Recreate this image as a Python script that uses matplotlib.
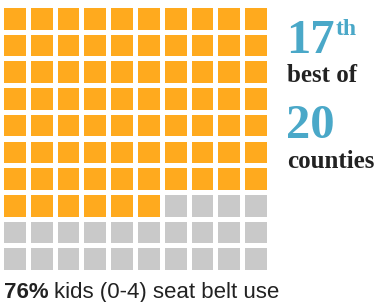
import matplotlib
matplotlib.use("Agg")
import matplotlib.pyplot as plt
from matplotlib.patches import Rectangle

# data
pct_value = 76          # share of kids (0-4) using seat belts
rank = 17
rank_suffix = "th"
total_counties = 20
caption = "kids (0-4) seat belt use"

n_cols, n_rows = 10, 10
orange = "#FFAA1E"
gray = "#C9C9C9"
blue = "#4AA8C8"

W, H = 377, 302
fig = plt.figure(figsize=(W / 100, H / 100), dpi=100)

# waffle grid (pixel box: x 4..267, y 8..270 from top)
ax = fig.add_axes([4 / W, 1 - 270 / H, 263 / W, 262 / H])
size = 0.81
for i in range(n_rows * n_cols):
    row, col = divmod(i, n_cols)
    color = orange if i < pct_value else gray
    ax.add_patch(Rectangle((col, n_rows - 1 - row), size, size,
                           facecolor=color, edgecolor="none"))
ax.set_xlim(0, n_cols - 1 + size)
ax.set_ylim(0, n_rows - 1 + size)
ax.axis("off")

# right side ranking text
serif = "Liberation Serif"
def px(x, y):
    return x / W, 1 - y / H

fig.text(*px(286, 53), str(rank), fontsize=35, fontweight="bold",
         family=serif, color=blue, va="baseline", ha="left")
fig.text(*px(336, 35), rank_suffix, fontsize=17, fontweight="bold",
         family=serif, color=blue, va="baseline", ha="left")
fig.text(*px(287, 82), "best of", fontsize=18, fontweight="bold",
         family=serif, color="#222222", va="baseline", ha="left")
fig.text(*px(286, 138), str(total_counties), fontsize=35, fontweight="bold",
         family=serif, color=blue, va="baseline", ha="left")
fig.text(*px(287, 168), "counties", fontsize=18, fontweight="bold",
         family=serif, color="#222222", va="baseline", ha="left")

# caption
t1 = fig.text(*px(4, 298), f"{pct_value}%", fontsize=16, fontweight="bold",
              family="Liberation Sans", color="#222222", va="baseline")
fig.canvas.draw()
bb = t1.get_window_extent()
fig.text((bb.x1 + 5) / W, 1 - 298 / H, caption, fontsize=16,
         family="Liberation Sans", color="#222222", va="baseline")

fig.savefig("out.png", dpi=100)
